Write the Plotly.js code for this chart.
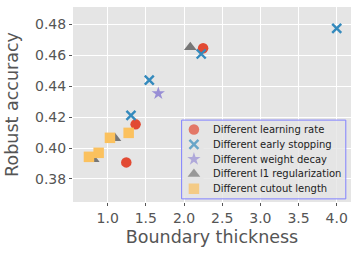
<!DOCTYPE html>
<html><head><meta charset="utf-8">
<script src="https://cdn.plot.ly/plotly-3.0.1.min.js"></script>
<style>html,body{margin:0;padding:0;background:#fff}#c{width:358px;height:254px}</style>
</head><body><div id="c"></div>
<script>
const seriesNames = ["Different learning rate","Different early stopping","Different weight decay","Different l1 regularization","Different cutout length"];
const lrX = [2.25, 1.366, 1.244];
const lrY = [0.4645, 0.4153, 0.3907];
const esX = [4.0, 2.225, 1.545, 1.305];
const esY = [0.4774, 0.4608, 0.4439, 0.4211];
const wdX = [1.663];
const wdY = [0.4353];
const l1X = [2.082, 1.096, 0.812];
const l1Y = [0.4652, 0.4064, 0.3928];
const coX = [1.03, 1.275, 0.882, 0.755];
const coY = [0.4066, 0.4098, 0.3969, 0.3943];
const xTicks = [1.0,1.5,2.0,2.5,3.0,3.5,4.0];
const yTicks = [0.38,0.40,0.42,0.44,0.46,0.48];

const colors = ["#E24A33","#348ABD","#988ED5","#777777","#FBC15E"];
const symbols = ["circle","x-thin","star","triangle-up","square"];
const sizes = [10.5, 9, 10, 11, 10.5];
const xs = [lrX, esX, wdX, l1X, coX];
const ys = [lrY, esY, wdY, l1Y, coY];
const mk = i => ({symbol:symbols[i], color:colors[i], size:sizes[i],
    line: i===1?{color:colors[i], width:2.4}:{width:0}});
const traces = xs.map((x,i)=>({
  type:"scatter", mode:"markers", x:x, y:ys[i], name:seriesNames[i],
  marker:mk(i), showlegend:false, cliponaxis:false
}));
// legend keys: one row per series index
const idx = seriesNames.map((_,i)=>i);
traces.push({type:"scatter", mode:"markers", xaxis:"x2", yaxis:"y2",
  x: idx.map(()=>0.5), y: idx, showlegend:false, hoverinfo:"skip",
  marker:{symbol:symbols, color:colors, size:sizes,
    line:{color:colors, width:idx.map(i=>i===1?2.4:0)}}});

const annotations = seriesNames.map((n,i)=>({xref:"x2", yref:"y2", x:0.5, y:i,
  text:n, showarrow:false, xanchor:"left", yanchor:"middle", xshift:17.5,
  font:{family:"DejaVu Sans", size:10, color:"#222222"}}));

const layout = {
  width:358, height:254,
  margin:{l:73, r:7, t:7, b:52},
  paper_bgcolor:"#ffffff", plot_bgcolor:"#E5E5E5",
  font:{family:"DejaVu Sans", color:"#555555"},
  xaxis:{range:[0.546,4.187], tickvals:xTicks, ticktext:xTicks.map(v=>v.toFixed(1)),
    showgrid:true, gridcolor:"#ffffff", gridwidth:1, zeroline:false,
    ticks:"outside", ticklen:3, tickcolor:"#555555", tickfont:{size:14, color:"#555555"},
    title:{text:"Boundary thickness", font:{size:17.5, color:"#555555"}, standoff:5}},
  yaxis:{range:[0.3651,0.4912], tickvals:yTicks, ticktext:yTicks.map(v=>v.toFixed(2)),
    showgrid:true, gridcolor:"#ffffff", gridwidth:1, zeroline:false,
    ticks:"outside", ticklen:3, tickcolor:"#555555", tickfont:{size:14, color:"#555555"},
    title:{text:"Robust accuracy", font:{size:17.5, color:"#555555"}, standoff:11}},
  xaxis2:{domain:[0.4,0.47], range:[0,1], visible:false, fixedrange:true, anchor:"y2"},
  yaxis2:{domain:[0.0303,0.4097], range:[4.5,-0.5], visible:false, fixedrange:true, anchor:"x2"},
  shapes:[{type:"rect", xref:"x", yref:"y", x0:1.9686, x1:4.119, y0:0.36712, y1:0.41806,
    layer:"between", fillcolor:"rgba(229,229,229,0.8)", line:{color:"#8080ff", width:1}}],
  annotations:annotations,
  showlegend:false
};
Plotly.newPlot("c", traces, layout, {displayModeBar:false, staticPlot:true});
</script></body></html>
